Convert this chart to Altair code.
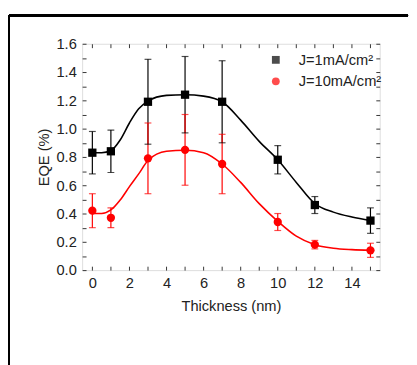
import altair as alt
import pandas as pd

S1 = "J=1mA/cm²"
S2 = "J=10mA/cm²"

thickness = [0, 1, 3, 5, 7, 10, 12, 15]
eqe_1 = [0.83, 0.84, 1.19, 1.24, 1.19, 0.78, 0.46, 0.35]
lo_1 = [0.68, 0.69, 0.89, 0.97, 0.90, 0.68, 0.40, 0.26]
hi_1 = [0.98, 0.99, 1.49, 1.51, 1.48, 0.88, 0.52, 0.44]
eqe_10 = [0.42, 0.37, 0.79, 0.85, 0.75, 0.34, 0.18, 0.14]
lo_10 = [0.30, 0.30, 0.54, 0.60, 0.54, 0.28, 0.15, 0.09]
hi_10 = [0.54, 0.44, 1.04, 1.10, 0.96, 0.40, 0.21, 0.19]

fit_x = [0, 0.5, 1, 1.5, 2, 2.5, 3, 4, 5, 6, 7, 8, 9, 10, 11, 12, 13, 14, 15]
fit_1 = [0.83, 0.83, 0.845, 0.92, 1.04, 1.14, 1.195, 1.235, 1.24, 1.23, 1.19,
         1.06, 0.91, 0.78, 0.62, 0.47, 0.41, 0.375, 0.35]
fit_10 = [0.40, 0.40, 0.425, 0.495, 0.59, 0.68, 0.775, 0.84, 0.847, 0.83, 0.75,
          0.62, 0.47, 0.345, 0.24, 0.18, 0.155, 0.145, 0.14]

pts = pd.DataFrame({
    "series": [S1] * len(thickness) + [S2] * len(thickness),
    "x": thickness + thickness,
    "y": eqe_1 + eqe_10,
    "lo": lo_1 + lo_10,
    "hi": hi_1 + hi_10,
})
fit = pd.DataFrame({
    "series": [S1] * len(fit_x) + [S2] * len(fit_x),
    "x": fit_x + fit_x,
    "y": fit_1 + fit_10,
})

FONT = "Arial"
TXT = "#222222"
FS = 15
cscale = alt.Scale(domain=[S1, S2], range=["#000000", "#ff0000"])
sscale = alt.Scale(domain=[S1, S2], range=["square", "circle"])
legend = alt.Legend(title=None, orient="none", legendX=191, legendY=9,
                    labelFont=FONT, labelFontSize=FS, labelColor=TXT, labelFontWeight="normal",
                    symbolSize=64, labelOffset=16, rowPadding=6, padding=0,
                    symbolStrokeWidth=0)
xs = alt.Scale(domain=[-0.55, 15.5], nice=False, zero=False)
ys = alt.Scale(domain=[0, 1.6], nice=False)

tick_common = dict(domain=False, grid=False, ticks=True, tickSize=4, offset=-4,
                   tickColor="#333333", tickWidth=1, labelFont=FONT, labelFontSize=FS,
                   labelFontWeight="normal",
                   labelColor=TXT, titleFont=FONT, titleFontSize=FS, titleColor=TXT,
                   titleFontWeight="normal")

x_bottom = alt.Axis(values=list(range(0, 16)), orient="bottom",
                    labelExpr="datum.value % 2 == 0 ? datum.value : ''",
                    labelPadding=6, title="Thickness (nm)", titlePadding=8, **tick_common)
y_left = alt.Axis(values=[i / 10 for i in range(0, 17)], orient="left",
                  labelExpr="round(datum.value*10) % 2 == 0 ? format(datum.value, '.1f') : ''",
                  labelPadding=6, title="EQE (%)", titlePadding=5, **tick_common)
x_top = alt.Axis(values=list(range(0, 16)), orient="top", labels=False, title=None, **tick_common)
y_right = alt.Axis(values=[i / 10 for i in range(0, 17)], orient="right", labels=False,
                   title=None, **tick_common)

curves = alt.Chart(fit).mark_line(interpolate="monotone", strokeWidth=1.6).encode(
    x=alt.X("x:Q", scale=xs, axis=x_top),
    y=alt.Y("y:Q", scale=ys, axis=y_right),
    color=alt.Color("series:N", scale=cscale, legend=legend),
    detail="series:N",
)

bars = alt.Chart(pts).mark_rule(strokeWidth=1.2).encode(
    x=alt.X("x:Q", scale=xs, axis=None),
    y=alt.Y("lo:Q", scale=ys, axis=None),
    y2="hi:Q",
    color=alt.Color("series:N", scale=cscale, legend=legend),
)
caps_lo = alt.Chart(pts).mark_tick(orient="horizontal", size=7, thickness=1.2).encode(
    x=alt.X("x:Q", scale=xs, axis=None),
    y=alt.Y("lo:Q", scale=ys, axis=None),
    color=alt.Color("series:N", scale=cscale, legend=legend),
)
caps_hi = alt.Chart(pts).mark_tick(orient="horizontal", size=7, thickness=1.2).encode(
    x=alt.X("x:Q", scale=xs, axis=None),
    y=alt.Y("hi:Q", scale=ys, axis=None),
    color=alt.Color("series:N", scale=cscale, legend=legend),
)
points = alt.Chart(pts).mark_point(filled=True, opacity=1, size=72).encode(
    x=alt.X("x:Q", scale=xs, axis=x_bottom),
    y=alt.Y("y:Q", scale=ys, axis=y_left),
    color=alt.Color("series:N", scale=cscale, legend=legend),
    shape=alt.Shape("series:N", scale=sscale, legend=legend),
)

frame_top = alt.Chart(pts).mark_rule(color="#000000", strokeWidth=2).encode(
    x=alt.value(-75), x2=alt.value(334), y=alt.value(-29))
frame_left = alt.Chart(pts).mark_rule(color="#000000", strokeWidth=2).encode(
    x=alt.value(-75), y=alt.value(-29), y2=alt.value(340))

chart = alt.layer(frame_top, frame_left, curves, bars, caps_lo, caps_hi, points).resolve_scale(
    x="shared", y="shared"
).resolve_axis(x="independent", y="independent").properties(
    width=305, height=232, padding={"left": 0, "top": 2, "right": 0, "bottom": 0}
).configure_view(stroke="#333333", strokeWidth=1.5).configure(background="white")

chart.save("out.html", embed_options={"renderer": "svg", "actions": False})
